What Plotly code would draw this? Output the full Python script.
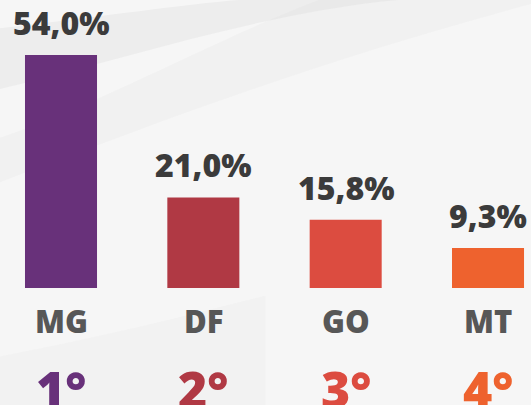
import plotly.graph_objects as go

categories = ["MG", "DF", "GO", "MT"]
values = [54.0, 21.0, 15.8, 9.3]
value_labels = ["54,0%", "21,0%", "15,8%", "9,3%"]
ranks = ["1°", "2°", "3°", "4°"]
colors = ["#68317A", "#B03944", "#DC4C40", "#EE622E"]

FONT = "Open Sans"

fig = go.Figure()
fig.add_trace(go.Bar(
    x=list(range(len(categories))), y=values,
    marker=dict(color=colors, line=dict(width=0)),
    width=0.506, hoverinfo="skip",
))

annotations = []
for i, (v, lab, cat, rk, col) in enumerate(zip(values, value_labels, categories, ranks, colors)):
    annotations.append(dict(x=i, y=v, xref="x", yref="y", text=lab, showarrow=False,
                            yanchor="bottom", yshift=9,
                            font=dict(family=FONT, size=32, color="#3B3B3B", weight=800)))
    annotations.append(dict(x=i, y=0, xref="x", yref="y", text=cat, showarrow=False,
                            yanchor="top", yshift=-10,
                            font=dict(family=FONT, size=31, color="#575757", weight=800)))
    annotations.append(dict(x=i, y=0, xref="x", yref="y", text=rk, showarrow=False,
                            yanchor="top", yshift=-65,
                            font=dict(family=FONT, size=50, color=col, weight=800)))

shapes = [
    dict(type="path", xref="paper", yref="paper",
         path="M 0,0.78 C 0.25,0.86 0.5,0.97 0.75,1.0 L 0,1.0 Z",
         fillcolor="rgba(200,200,200,0.18)", line=dict(width=0), layer="below"),
    dict(type="path", xref="paper", yref="paper",
         path="M 0,0.93 C 0.2,0.96 0.35,0.99 0.45,1.0 L 0,1.0 Z",
         fillcolor="rgba(255,255,255,0.5)", line=dict(width=0), layer="below"),
    dict(type="path", xref="paper", yref="paper",
         path="M 0,0.55 C 0.3,0.7 0.6,0.85 1.0,0.99 L 1.0,1.0 L 0.6,1.0 C 0.4,0.9 0.2,0.75 0,0.66 Z",
         fillcolor="rgba(215,215,215,0.15)", line=dict(width=0), layer="below"),
    dict(type="path", xref="paper", yref="paper",
         path="M 0,0.12 C 0.2,0.17 0.35,0.22 0.5,0.27 L 0.5,0.0 L 0,0.0 Z",
         fillcolor="rgba(236,236,236,0.35)", line=dict(width=0), layer="below"),
]

fig.update_layout(
    width=531, height=405,
    margin=dict(l=0, r=0, t=0, b=0),
    paper_bgcolor="#F6F6F6", plot_bgcolor="rgba(0,0,0,0)",
    showlegend=False,
    xaxis=dict(range=[-0.4286, 3.302], visible=False, fixedrange=True),
    yaxis=dict(range=[-27.11, 66.74], visible=False, fixedrange=True),
    annotations=annotations, shapes=shapes,
)

fig.write_html(
    "out.html",
    config={"displayModeBar": False},
    post_script="document.body.style.margin='0';document.body.style.overflow='hidden';",
)
